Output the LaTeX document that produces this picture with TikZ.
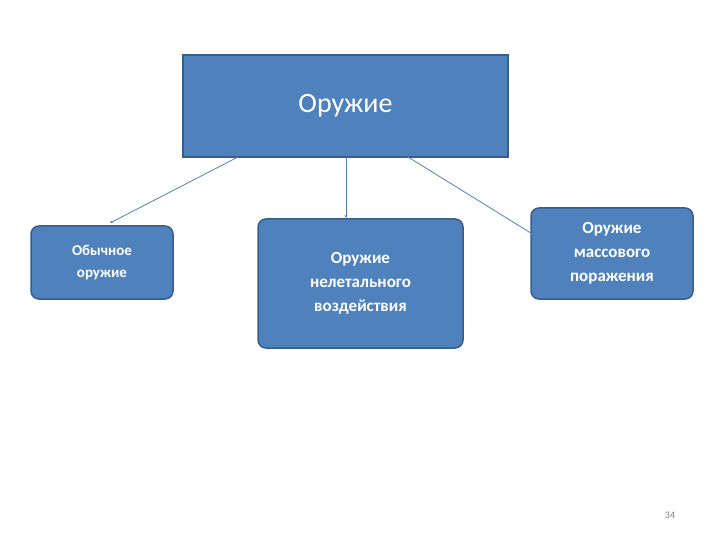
\documentclass[tikz,border=0pt]{standalone}
\usepackage{fontspec}
\usetikzlibrary{arrows.meta}
\setmainfont{Carlito}
\definecolor{fillb}{HTML}{4F81BD}
\definecolor{edgeb}{HTML}{385D8A}
\begin{document}
\begin{tikzpicture}[x=1pt,y=-1pt,
  box/.style={fill=fillb,draw=edgeb,line width=1.5pt,rounded corners=8pt,text=white,align=center,font=\bfseries\fontsize{17}{24}\selectfont},
  conn/.style={draw=fillb,line width=0.8pt,-{Stealth[length=3pt,width=3pt]}}]
\useasboundingbox (0,0) rectangle (720,540);
\node[fill=fillb,draw=edgeb,line width=1.5pt,minimum width=325pt,minimum height=102pt,text=white,font=\fontsize{28}{32}\selectfont] (top) at (345.5,106) {Оружие};
\node[box,minimum width=142pt,minimum height=73pt,font=\bfseries\fontsize{15}{22}\selectfont] (l) at (102,262.5) {Обычное\\оружие};
\node[box,minimum width=205pt,minimum height=129pt] (m) at (360.5,283.5) {Оружие\\нелетального\\воздействия};
\node[box,minimum width=162pt,minimum height=91pt] (r) at (612,253.5) {Оружие\\массового\\поражения};
\coordinate (a1) at (238,157); \coordinate (a2) at (346,157); \coordinate (a3) at (408,157);
\coordinate (b1) at (110,223); \coordinate (b2) at (346,218); \coordinate (b3) at (534,235);
\draw[conn] (a1) -- (b1);
\draw[conn] (a2) -- (b2);
\draw[conn] (a3) -- (b3);
\node[text=gray,font=\fontsize{10}{12}\selectfont] (pg) at (670,515) {34};
\end{tikzpicture}
\end{document}
